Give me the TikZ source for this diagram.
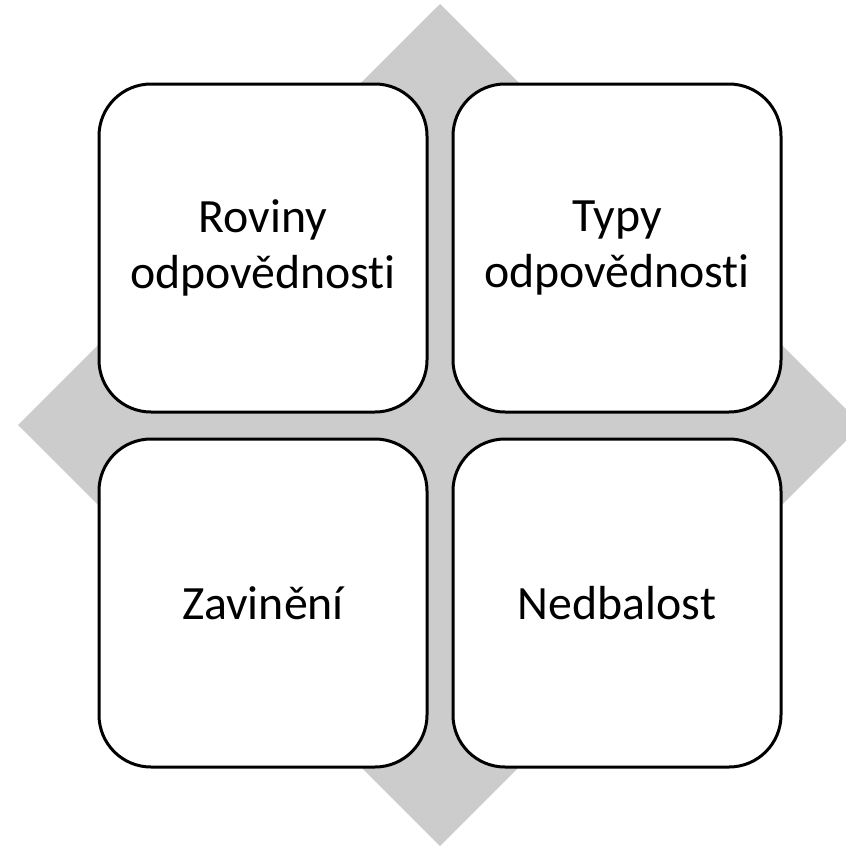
\documentclass[tikz,border=0pt]{standalone}
\usepackage{fontspec}
\setmainfont{Carlito}[Ligatures=NoCommon, Contextuals=NoAlternate, RawFeature={-liga;-clig;-dlig}]
\definecolor{diamondgray}{HTML}{CCCCCC}
\newcommand{\nolig}{\kern0pt }
\tikzset{
  quad/.style={draw=black, line width=3pt, fill=white, rounded corners=52pt,
    minimum width=328pt, minimum height=328pt, inner sep=0pt, align=center,
    font=\fontsize{47.8}{56}\selectfont},
}
\begin{document}
\begin{tikzpicture}[x=1pt,y=-1pt]
\useasboundingbox (0,0) rectangle (846,846);
\clip (0,0) rectangle (846,846);
\fill[diamondgray] (440,4) -- (862,425) -- (440,846) -- (18,425) -- cycle;
\node[quad] (a) at (263,248) {Roviny\\odpovědnost\nolig i};
\node[quad] (b) at (617,248) {Typy\\odpovědnost\nolig i};
\node[quad] (c) at (263,603) {Zavinění};
\node[quad] (d) at (617,603) {Nedbalost};
\end{tikzpicture}
\end{document}
